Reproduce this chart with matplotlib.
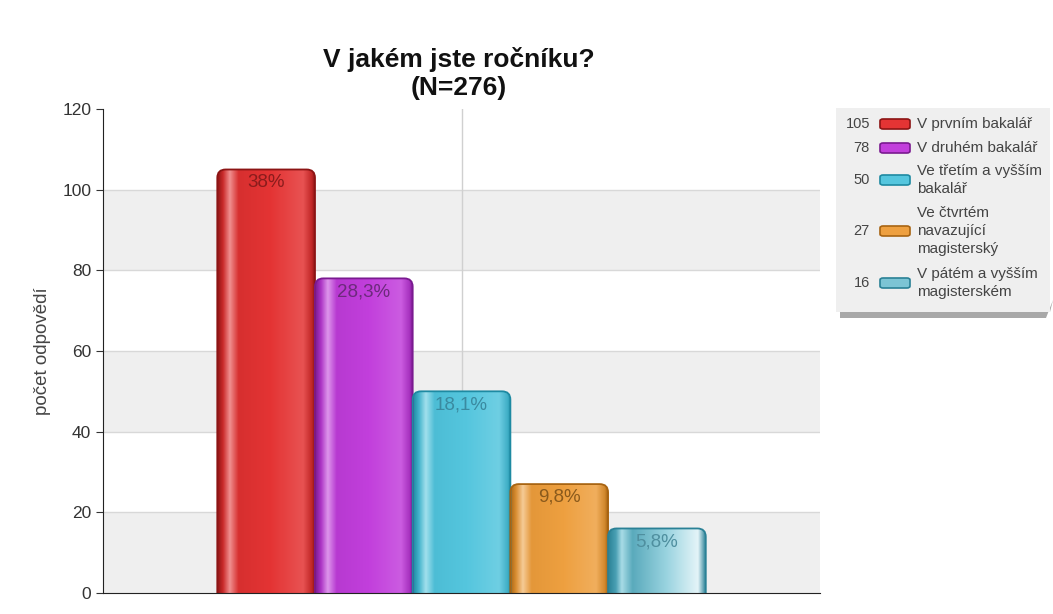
import numpy as np
import matplotlib.pyplot as plt
from matplotlib.colors import LinearSegmentedColormap, to_rgb
from matplotlib.patches import Rectangle, FancyBboxPatch, Polygon

plt.rcParams['font.family'] = ['Liberation Sans', 'DejaVu Sans']

categories = ['V prvním bakalář', 'V druhém bakalář', 'Ve třetím a vyšším\nbakalář',
              'Ve čtvrtém\nnavazující\nmagisterský', 'V pátém a vyšším\nmagisterském']
counts = [105, 78, 50, 27, 16]
pct_labels = ['38%', '28,3%', '18,1%', '9,8%', '5,8%']
colors = ['#e43434', '#c23fdc', '#55c6de', '#eea040', '#7cc4d4']
edges = ['#8c1414', '#7a1a90', '#1e8aa2', '#a86412', '#2a8196']
text_cols = ['#8a1c1c', '#6c2a7c', '#3a8aa0', '#8a5a1c', '#4f8f9f']


def mix(c, t, k):
    c = np.array(to_rgb(c)); t = np.array(to_rgb(t))
    return tuple(c + (t - c) * k)


def bar_cmap(c, e):
    stops = [(0.0, e), (0.06, mix(c, e, 0.3)), (0.13, mix(c, 'white', 0.45)),
             (0.22, mix(c, e, 0.15)), (0.55, c), (0.88, mix(c, 'white', 0.15)),
             (0.97, mix(c, e, 0.4)), (1.0, e)]
    return LinearSegmentedColormap.from_list('b', stops)


fig = plt.figure(figsize=(10.53, 6.14), dpi=100)
ax = fig.add_axes([0.0978, 0.0342, 0.681, 0.7883])

x = np.arange(len(counts))
xlim = (-1.67, 5.67)
ax.set_xlim(*xlim)
ax.set_ylim(0, 120)

# alternating bands and grid
for y0 in range(0, 120, 40):
    ax.axhspan(y0, y0 + 20, color='#efefef', zorder=0, lw=0)
for y0 in range(20, 120, 20):
    ax.axhline(y0, color='#d8d8d8', lw=1, zorder=0.5)
ax.axvline(2, color='#d0d0d0', lw=1, zorder=0.5)

bars = ax.bar(x, counts, width=1.0, color='none', edgecolor='none', zorder=2)

# rounded glossy bars built on the bar geometry
aspect = (0.681 * 1053 / (xlim[1] - xlim[0])) / (0.7883 * 614 / 120)
grad = np.linspace(0, 1, 256).reshape(1, -1)
for b, c, e in zip(bars, colors, edges):
    x0, w, h = b.get_x(), b.get_width(), b.get_height()
    shape = FancyBboxPatch((x0, -10), w, h + 10, boxstyle='round,pad=0,rounding_size=0.085',
                           mutation_aspect=aspect, facecolor='none', edgecolor=e, lw=1.3, zorder=3)
    ax.add_patch(shape)
    cmap = bar_cmap(c, e)
    if c == '#7cc4d4':
        cmap = LinearSegmentedColormap.from_list('t', [(0, e), (0.08, '#4aa0b4'), (0.14, '#a8dce6'),
                                                      (0.25, '#5aaabc'), (0.6, '#9ad4e0'),
                                                      (0.92, '#e4f4f8'), (1.0, e)])
    im = ax.imshow(grad, extent=[x0, x0 + w, 0, h], aspect='auto', cmap=cmap, zorder=2.5)
    im.set_clip_path(shape)
ax.set_xlim(*xlim)
ax.set_ylim(0, 120)

for xi, v, lab, tc in zip(x, counts, pct_labels, text_cols):
    ax.text(xi, v - 3.3, lab, ha='center', va='center', fontsize=13.5, color=tc, zorder=4)

ax.set_yticks(range(0, 121, 20))
ax.set_xticks([])
ax.tick_params(axis='y', labelsize=12.5, labelcolor='#333333', length=5, color='#333333')
for s in ['top', 'right']:
    ax.spines[s].set_visible(False)
ax.spines['left'].set_color('#222222')
ax.spines['bottom'].set_color('#222222')
ax.spines['left'].set_zorder(5)
ax.spines['bottom'].set_zorder(5)
ax.set_ylabel('počet odpovědí', fontsize=13.5, color='#444444', labelpad=8)

W, H = 1053, 614
fig.text(459 / W, 1 - 59 / H, 'V jakém jste ročníku?', ha='center', va='center',
         fontsize=19, fontweight='bold', color='#111111')
fig.text(459 / W, 1 - 88 / H, '(N=276)', ha='center', va='center',
         fontsize=19, fontweight='bold', color='#111111')

# legend box with shadow
shadow = Polygon([(840 / W, 1 - 312 / H), (1050 / W, 1 - 312 / H), (1053 / W, 1 - 300 / H),
                  (1046 / W, 1 - 318 / H), (840 / W, 1 - 318 / H)], closed=True,
                 transform=fig.transFigure, facecolor='#a8a8a8', edgecolor='none', zorder=0)
fig.patches.append(shadow)
box = Rectangle((836 / W, 1 - 312 / H), 214 / W, 204 / H, transform=fig.transFigure,
                facecolor='#efefef', edgecolor='none', zorder=1)
fig.patches.append(box)
rows = [124, 148, 180, 231, 283]
for yy, n, lab, c, e in zip(rows, counts, categories, colors, edges):
    fy = 1 - yy / H
    fig.text(870 / W, fy, str(n), ha='right', va='center', fontsize=10.5, color='#444444', zorder=2)
    sw = FancyBboxPatch((880 / W, fy - 5 / H), 30 / W, 10 / H, transform=fig.transFigure,
                        boxstyle='round,pad=0,rounding_size=0.003', facecolor=c, edgecolor=e,
                        lw=1.2, zorder=2)
    fig.patches.append(sw)
    fig.text(917 / W, fy, lab, ha='left', va='center', fontsize=11, color='#444444',
             linespacing=1.38, zorder=2)

fig.savefig('out.png', dpi=100)
